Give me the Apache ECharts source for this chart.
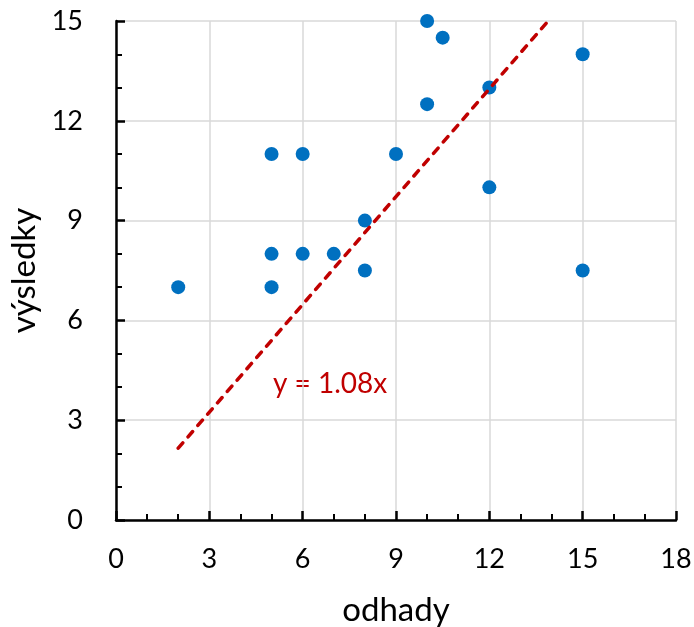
<!DOCTYPE html>
<html>
<head>
<meta charset="utf-8">
<script src="https://cdn.jsdelivr.net/npm/echarts@6/dist/echarts.min.js"></script>
<style>html,body{margin:0;padding:0;background:#fff}#c{width:694px;height:627px}</style>
</head>
<body>
<div id="c"></div>
<script>
var odhady = [2, 5, 6, 5, 6, 7, 5, 8, 8, 9, 10, 10, 10.5, 12, 12, 15, 15];
var vysledky = [7, 11, 11, 8, 8, 8, 7, 9, 7.5, 11, 15, 12.5, 14.5, 13, 10, 14, 7.5];
var slope = 1.08;
var trendX = [2, 15];
var xTicks = [0, 3, 6, 9, 12, 15, 18];
var yTicks = [0, 3, 6, 9, 12, 15];

var points = odhady.map(function (x, i) { return [x, vysledky[i]]; });
var trend = trendX.map(function (x) { return [x, slope * x]; });
var font = "Lato, 'Open Sans', sans-serif";

var chart = echarts.init(document.getElementById('c'), null, {renderer: 'canvas'});
chart.setOption({
  animation: false,
  grid: {left: 116, right: 18, top: 21, bottom: 107, containLabel: false, outerBoundsMode: 'none'},
  xAxis: {
    type: 'value', min: xTicks[0], max: xTicks[xTicks.length - 1], interval: 3,
    name: 'odhady', nameLocation: 'middle', nameGap: 74,
    nameTextStyle: {fontSize: 33, color: '#000', fontFamily: font},
    axisLine: {show: true, onZero: false, lineStyle: {color: '#000', width: 2.5}},
    axisTick: {show: true, inside: true, length: 9, lineStyle: {color: '#000', width: 2.5}},
    minorTick: {show: true, splitNumber: 3, length: 6, lineStyle: {color: '#000', width: 2}},
    splitLine: {show: true, lineStyle: {color: '#d9d9d9', width: 1.5}},
    axisLabel: {fontSize: 27, color: '#000', margin: 26, fontFamily: font}
  },
  yAxis: {
    type: 'value', min: yTicks[0], max: yTicks[yTicks.length - 1], interval: 3,
    name: 'výsledky', nameLocation: 'middle', nameGap: 72, nameRotate: 90,
    nameTextStyle: {fontSize: 33, color: '#000', fontFamily: font},
    axisLine: {show: true, onZero: false, lineStyle: {color: '#000', width: 2.5}},
    axisTick: {show: true, inside: true, length: 9, lineStyle: {color: '#000', width: 2.5}},
    minorTick: {show: true, splitNumber: 3, length: 6, lineStyle: {color: '#000', width: 2}},
    splitLine: {show: true, lineStyle: {color: '#d9d9d9', width: 1.5}},
    axisLabel: {fontSize: 27, color: '#000', margin: 33, fontFamily: font}
  },
  series: [
    {
      type: 'scatter', data: points, symbolSize: 14,
      itemStyle: {color: '#0070C0', opacity: 1}, z: 2
    },
    {
      type: 'line', data: trend, showSymbol: false, symbol: 'none', clip: true,
      lineStyle: {color: '#C00000', width: 3.5, type: [7, 8], cap: 'round'}, z: 3
    }
  ],
  graphic: [{
    type: 'text', left: 273, top: 370,
    style: {text: 'y = 1.08x', fontSize: 28, fill: '#C00000', fontFamily: font}
  }]
});
</script>
</body>
</html>
